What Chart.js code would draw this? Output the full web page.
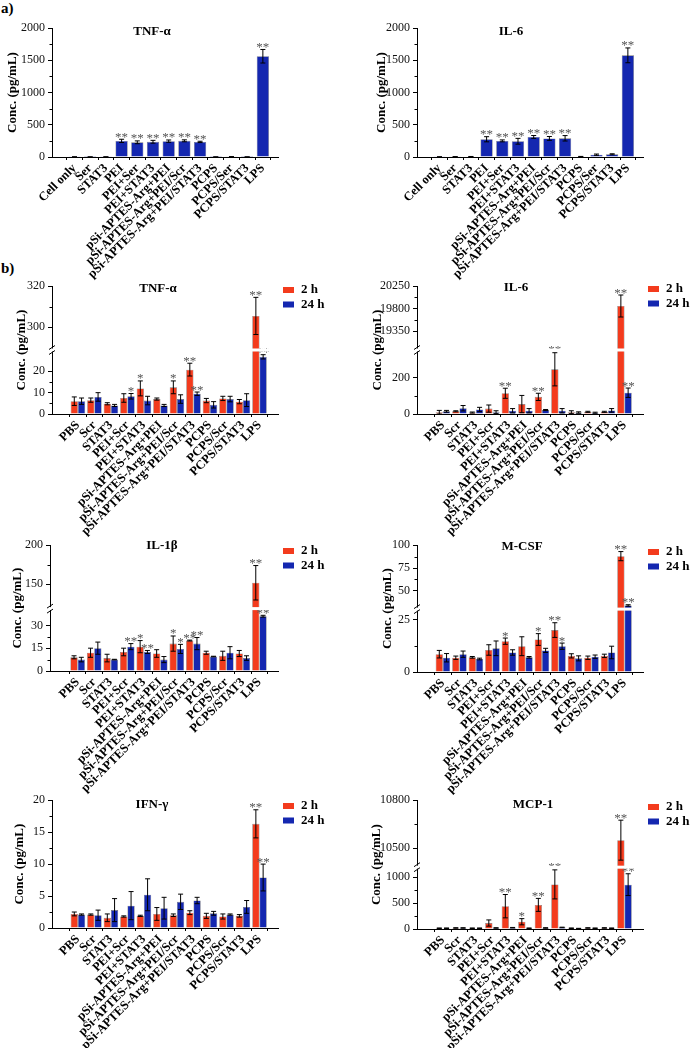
<!DOCTYPE html>
<html>
<head>
<meta charset="utf-8">
<script src="https://cdn.jsdelivr.net/npm/chart.js@4/dist/chart.umd.min.js"></script>
<style>
  body { margin: 0; background: #fff; width: 700px; height: 1048px; position: relative; overflow: hidden; }
  .lab { position: absolute; font: bold 15px "Liberation Serif", serif; color: #000; }
</style>
</head>
<body>
<div class="lab" style="left:1px;top:0px">a)</div>
<div class="lab" style="left:1px;top:260px">b)</div>
<script>
// categories
const catsA = ['Cell only', 'Ser', 'STAT3', 'PEI', 'PEI+Ser', 'PEI+STAT3', 'pSi-APTES-Arg+PEI',
  'pSi-APTES-Arg+PEI/Scr', 'pSi-APTES-Arg+PEI/STAT3', 'PCPS', 'PCPS/Ser', 'PCPS/STAT3', 'LPS'];
const catsB = ['PBS', 'Scr', 'STAT3', 'PEI+Scr', 'PEI+STAT3', 'pSi-APTES-Arg+PEI',
  'pSi-APTES-Arg+PEI/Scr', 'pSi-APTES-Arg+PEI/STAT3', 'PCPS', 'PCPS/Scr', 'PCPS/STAT3', 'LPS'];

// a) TNF-a and IL-6
const tnfA = [2, 1, 2, 250, 228, 236, 246, 251, 234, 1, 4, 1, 1562];
const tnfAErr = [1, 1, 1, 25, 22, 22, 18, 15, 10, 1, 2, 1, 105];
const tnfAStars = ['', '', '', '**', '**', '**', '**', '**', '**', '', '', '', '**'];
const il6A = [2, 4, 6, 275, 250, 244, 311, 288, 290, 6, 36, 42, 1576];
const il6AErr = [1, 2, 2, 40, 15, 45, 22, 30, 42, 3, 10, 8, 115];
const il6AStars = ['', '', '', '**', '**', '**', '**', '**', '**', '', '', '', '**'];

// b) 2 h / 24 h
const tnf2h = [6, 6.5, 4.8, 7.5, 12, 7, 12.5, 20.8, 6.3, 7.3, 5.8, 305.5];
const tnf2hErr = [2, 1, 0.5, 2, 3.5, 0.5, 3, 3, 1, 1, 1, 9];
const tnf24h = [6, 8, 4, 8.3, 6.3, 4, 7, 9.5, 4.3, 7, 6.5, 26.8];
const tnf24hErr = [1.5, 2, 0.5, 1.3, 2, 0.5, 2, 0.8, 1.5, 1.3, 3, 1];
const tnf2hStars = ['', '', '', '', '*', '', '*', '**', '', '', '', '**'];
const tnf24hStars = ['', '', '', '*', '', '', '', '**', '', '', '', '**'];

const il62h = [10, 15, 8, 30, 115, 55, 95, 248, 10, 12, 12, 19850];
const il62hErr = [10, 3, 3, 20, 28, 48, 20, 92, 8, 3, 3, 220];
const il624h = [15, 32, 25, 10, 18, 18, 22, 18, 8, 7, 20, 118];
const il624hErr = [5, 15, 12, 8, 12, 12, 3, 12, 4, 3, 10, 26];
const il62hStars = ['', '', '', '', '**', '', '**', '**', '', '', '', '**'];
const il624hStars = ['', '', '', '', '', '', '', '', '', '', '', '**'];

const il1b2h = [9, 12, 8.5, 12.5, 16, 11.5, 18, 20, 12, 10, 11.5, 152];
const il1b2hErr = [1, 3, 2.5, 2.5, 4, 2.5, 5, 0.3, 1, 3, 2, 22];
const il1b24h = [7.5, 15, 7.5, 16, 12.5, 7.5, 14.5, 18, 9.5, 12, 8.5, 36];
const il1b24hErr = [1.5, 4, 0.2, 2, 1, 2, 3, 4, 0.2, 4, 1.5, 0.6];
const il1b2hStars = ['', '', '', '', '*', '', '*', '**', '', '', '', '**'];
const il1b24hStars = ['', '', '', '**', '**', '', '*', '**', '', '', '', '**'];

const mcsf2h = [8.5, 6.8, 7, 10.5, 14.7, 12.3, 15.5, 20, 7.7, 6.8, 7.7, 88];
const mcsf2hErr = [1.8, 0.8, 0.4, 2.5, 1.5, 4.5, 2.8, 3.5, 1, 0.8, 0.8, 5];
const mcsf24h = [6.8, 8.5, 6.2, 11.3, 9.3, 7, 10.3, 12.3, 6.5, 7.3, 9.3, 34];
const mcsf24hErr = [2, 1.5, 0.4, 3.5, 1.3, 0.4, 1, 1.5, 1.2, 0.8, 3, 0.8];
const mcsf2hStars = ['', '', '', '', '*', '', '*', '**', '', '', '', '**'];
const mcsf24hStars = ['', '', '', '', '', '', '', '*', '', '', '', '**'];

const ifn2h = [2.2, 2.1, 1.6, 1.8, 1.9, 2.2, 2.0, 2.4, 1.9, 1.8, 1.9, 16.3];
const ifn2hErr = [0.3, 0.1, 0.6, 0.1, 0.1, 1, 0.2, 0.3, 0.4, 0.4, 0.2, 2.2];
const ifn24h = [2.1, 2.0, 2.8, 3.5, 5.2, 3.1, 4.1, 4.3, 2.3, 2.1, 3.3, 7.9];
const ifn24hErr = [0.1, 0.8, 1.8, 2.2, 2.5, 1.7, 1.2, 0.5, 0.3, 0.1, 1, 2.1];
const ifn2hStars = ['', '', '', '', '', '', '', '', '', '', '', '**'];
const ifn24hStars = ['', '', '', '', '', '', '', '', '', '', '', '**'];

const mcp2h = [15, 20, 15, 115, 440, 140, 465, 860, 15, 20, 20, 10550];
const mcp2hErr = [5, 5, 5, 60, 225, 60, 125, 280, 5, 5, 5, 125];
const mcp24h = [15, 20, 15, 20, 25, 15, 20, 30, 10, 15, 15, 855];
const mcp24hErr = [5, 5, 5, 5, 5, 5, 5, 5, 3, 5, 5, 210];
const mcp2hStars = ['', '', '', '', '**', '*', '**', '**', '', '', '', '**'];
const mcp24hStars = ['', '', '', '', '', '', '', '', '', '', '', '**'];

// y tick labels
const ticksA = [0, 500, 1000, 1500, 2000];
const ticksTnf = [0, 10, 20, 300, 320];
const ticksIl6 = [0, 200, 19350, 19800, 20250];
const ticksIl1b = [0, 15, 30, 150, 200];
const ticksMcsf = [0, 25, 50, 75, 100];
const ticksIfn = [0, 5, 10, 15, 20];
const ticksMcp = [0, 500, 1000, 10500, 10800];

const SERIF = '"Liberation Serif", "Times New Roman", serif';
const RED = '#f33b1d';
const BLUE = '#1427b0';
const YTITLE_SIZE = 13;

// y axis with a gap: values up to low fill the lower part (frac), values from high fill the rest
class BrokenScale extends Chart.LinearScale {
  toDecimal(v) {
    const b = this.brk, lo = this.min, hi = this.max;
    if (!b) return (v - lo) / (hi - lo);
    if (v <= b.low) return (v - lo) / (b.low - lo) * b.frac;
    if (v < b.high) return b.frac;
    return b.frac + (v - b.high) / (hi - b.high) * (1 - b.frac);
  }
  getPixelForValue(v) {
    if (v === null || v === undefined || isNaN(v)) return NaN;
    return this.getPixelForDecimal(this.toDecimal(v));
  }
  getValueForPixel(px) {
    const d = this.getDecimalForPixel(px), b = this.brk;
    if (!b) return this.min + d * (this.max - this.min);
    if (d <= b.frac) return this.min + d / b.frac * (b.low - this.min);
    return b.high + (d - b.frac) / (1 - b.frac) * (this.max - b.high);
  }
}
BrokenScale.id = 'broken';
BrokenScale.defaults = Chart.LinearScale.defaults;
Chart.register(BrokenScale);

const two = (d2, e2, s2, d24, e24, s24) => [
  {label: '2 h', data: d2, err: e2, stars: s2, color: RED},
  {label: '24 h', data: d24, err: e24, stars: s24, color: BLUE}
];

const panels = [
  {box: [0, 0, 350, 285], axis: [52, 278, 28, 157], lx: 13, title: 'TNF-α', tx: 152, ty: 32,
   cats: catsA, xr: [-0.88, 12.41], cp: 0.78, ticks: ticksA, max: 2000, brk: null,
   sets: [{data: tnfA, err: tnfAErr, stars: tnfAStars, color: BLUE}]},
  {box: [350, 0, 350, 285], axis: [417, 643, 28, 157], lx: 382, title: 'IL-6', tx: 511, ty: 32,
   cats: catsA, xr: [-0.88, 12.41], cp: 0.78, ticks: ticksA, max: 2000, brk: null,
   sets: [{data: il6A, err: il6AErr, stars: il6AStars, color: BLUE}]},
  {box: [0, 268, 350, 272], axis: [52, 278, 286, 414], lx: 22, title: 'TNF-α', tx: 158, ty: 289, ly: 290,
   cats: catsB, xr: [-1, 11.55], cp: 0.88, ticks: ticksTnf, max: 320, brk: {low: 30, high: 289, frac: 0.5},
   sets: two(tnf2h, tnf2hErr, tnf2hStars, tnf24h, tnf24hErr, tnf24hStars)},
  {box: [350, 268, 350, 272], axis: [417, 643, 286, 414], lx: 378, title: 'IL-6', tx: 516, ty: 288, ly: 289,
   cats: catsB, xr: [-1, 11.55], cp: 0.88, ticks: ticksIl6, max: 20250, brk: {low: 355, high: 18970, frac: 0.5},
   sets: two(il62h, il62hErr, il62hStars, il624h, il624hErr, il624hStars)},
  {box: [0, 535, 350, 260], axis: [50, 278, 542, 671], lx: 18, title: 'IL-1β', tx: 162, ty: 546, ly: 551,
   cats: catsB, xr: [-1.1, 11.55], cp: 0.88, ticks: ticksIl1b, max: 200, brk: {low: 41, high: 119, frac: 0.496},
   sets: two(il1b2h, il1b2hErr, il1b2hStars, il1b24h, il1b24hErr, il1b24hStars)},
  {box: [350, 535, 350, 260], axis: [417, 643, 543, 672], lx: 388, title: 'M-CSF', tx: 522, ty: 547, ly: 552,
   cats: catsB, xr: [-1, 11.55], cp: 0.88, ticks: ticksMcsf, max: 100, brk: {low: 30, high: 30, frac: 0.496},
   sets: two(mcsf2h, mcsf2hErr, mcsf2hStars, mcsf24h, mcsf24hErr, mcsf24hStars)},
  {box: [0, 790, 350, 258], axis: [52, 278, 799, 928], lx: 20, title: 'IFN-γ', tx: 152, ty: 805, ly: 806,
   cats: catsB, xr: [-1, 11.55], cp: 0.88, ticks: ticksIfn, max: 20, brk: null,
   sets: two(ifn2h, ifn2hErr, ifn2hStars, ifn24h, ifn24hErr, ifn24hStars)},
  {box: [350, 790, 350, 258], axis: [417, 643, 800, 929], lx: 377, title: 'MCP-1', tx: 533, ty: 805, ly: 807,
   cats: catsB, xr: [-1, 11.55], cp: 0.88, ticks: ticksMcp, max: 10800, brk: {low: 1192, high: 10381, frac: 0.48},
   sets: two(mcp2h, mcp2hErr, mcp2hStars, mcp24h, mcp24hErr, mcp24hStars)}
];

function deco(p) {
  const [cl, ct] = p.box;
  const [x0, x1] = p.axis;
  return {
    id: 'deco',
    afterDatasetsDraw(chart) {
      const ctx = chart.ctx, ys = chart.scales.y;
      ctx.save();
      p.sets.forEach((s, di) => {
        chart.getDatasetMeta(di).data.forEach((bar, i) => {
          const v = s.data[i], e = s.err[i];
          const top = ys.getPixelForValue(v + e);
          const bot = ys.getPixelForValue(Math.max(v - e, 0));
          ctx.strokeStyle = '#000';
          ctx.lineWidth = 1;
          ctx.beginPath();
          ctx.moveTo(bar.x, top); ctx.lineTo(bar.x, bot);
          ctx.moveTo(bar.x - 2.5, top); ctx.lineTo(bar.x + 2.5, top);
          ctx.moveTo(bar.x - 2.5, bot); ctx.lineTo(bar.x + 2.5, bot);
          ctx.stroke();
          if (s.stars[i]) {
            ctx.fillStyle = '#555';
            ctx.font = '13px ' + SERIF;
            ctx.textAlign = 'center';
            ctx.textBaseline = 'alphabetic';
            ctx.fillText(s.stars[i], bar.x, top + 1.5);
          }
        });
      });
      ctx.restore();
    },
    afterDraw(chart) {
      const ctx = chart.ctx, ys = chart.scales.y, area = chart.chartArea;
      const ax = x0 - cl;
      ctx.save();
      // minor ticks between major ticks of the same segment
      const b = p.brk;
      const seg = v => (!b || v <= b.low) ? 0 : 1;
      ctx.strokeStyle = '#000';
      ctx.lineWidth = 1;
      ctx.beginPath();
      for (let i = 0; i < p.ticks.length - 1; i++) {
        if (seg(p.ticks[i]) !== seg(p.ticks[i + 1])) continue;
        const y = Math.round(ys.getPixelForValue((p.ticks[i] + p.ticks[i + 1]) / 2)) + 0.5;
        ctx.moveTo(ax - 2.5, y); ctx.lineTo(ax, y);
      }
      ctx.stroke();
      // axis break
      if (b) {
        const by = ys.getPixelForDecimal(b.frac);
        ctx.fillStyle = '#fff';
        ctx.fillRect(ax - 4, by - 1.5, area.right - ax + 4, 3);
        ctx.beginPath();
        ctx.moveTo(ax - 3, by - 0.5); ctx.lineTo(ax + 3, by - 4.5);
        ctx.moveTo(ax - 3, by + 4.5); ctx.lineTo(ax + 3, by + 0.5);
        ctx.stroke();
      }
      // panel title
      ctx.fillStyle = '#000';
      ctx.font = 'bold 13px ' + SERIF;
      ctx.textAlign = 'center';
      ctx.textBaseline = 'middle';
      ctx.fillText(p.title, p.tx - cl, p.ty - ct);
      // legend
      if (p.ly) {
        p.sets.forEach((s, i) => {
          const y = p.ly - ct + i * 14.5;
          ctx.fillStyle = s.color;
          ctx.fillRect(x1 - cl + 5, y - 3, 11, 6);
          ctx.fillStyle = '#000';
          ctx.textAlign = 'left';
          ctx.fillText(s.label, x1 - cl + 23, y);
        });
      }
      ctx.restore();
    }
  };
}

function makePanel(p) {
  const [cl, ct, cw, ch] = p.box;
  const [x0, x1, y0, y1] = p.axis;
  const cv = document.createElement('canvas');
  cv.width = cw;
  cv.height = ch;
  cv.style.cssText = `position:absolute;left:${cl}px;top:${ct}px;width:${cw}px;height:${ch}px`;
  document.body.appendChild(cv);
  // y title is drawn at scale.left + lineHeight/2 + 4
  const padL = p.lx - cl - (YTITLE_SIZE * 1.2 / 2 + 4);
  const yW = x0 - cl - padL;
  const xH = ct + ch - y1;

  new Chart(cv, {
    type: 'bar',
    data: {
      datasets: p.sets.map(s => ({
        label: s.label,
        data: s.data.map((v, i) => ({x: i, y: v})),
        backgroundColor: s.color,
        borderColor: 'rgba(0,0,0,0.55)',
        borderWidth: 0.6,
        categoryPercentage: p.cp,
        barPercentage: 1
      }))
    },
    options: {
      responsive: false,
      animation: false,
      devicePixelRatio: 1,
      layout: {padding: {left: padL, top: y0 - ct, right: cl + cw - x1, bottom: 0}},
      plugins: {legend: {display: false}, tooltip: {enabled: false}, title: {display: false}},
      scales: {
        x: {
          type: 'linear',
          min: p.xr[0],
          max: p.xr[1],
          afterBuildTicks: s => { s.ticks = p.cats.map((c, i) => ({value: i})); },
          afterFit: s => { s.height = xH; },
          grid: {display: true, drawOnChartArea: false, drawTicks: true, tickLength: 3, color: '#000'},
          border: {display: true, color: '#000', width: 1},
          ticks: {
            autoSkip: false, minRotation: 45, maxRotation: 45, padding: 1, color: '#000',
            font: {family: SERIF, size: 12.5, weight: 'bold'},
            callback: v => p.cats[v]
          }
        },
        y: {
          type: 'broken',
          min: 0,
          max: p.max,
          afterBuildTicks: s => { s.brk = p.brk; s.ticks = p.ticks.map(v => ({value: v})); },
          afterFit: s => { s.width = yW; },
          grid: {display: true, drawOnChartArea: false, drawTicks: true, tickLength: 4, color: '#000'},
          border: {display: true, color: '#000', width: 1},
          ticks: {autoSkip: false, padding: 3, color: '#111', font: {family: SERIF, size: 12}, callback: v => String(v)},
          title: {display: true, text: 'Conc. (pg/mL)', color: '#000', font: {family: SERIF, size: YTITLE_SIZE, weight: 'bold'}}
        }
      }
    },
    plugins: [deco(p)]
  });
}

panels.forEach(makePanel);
</script>
</body>
</html>
